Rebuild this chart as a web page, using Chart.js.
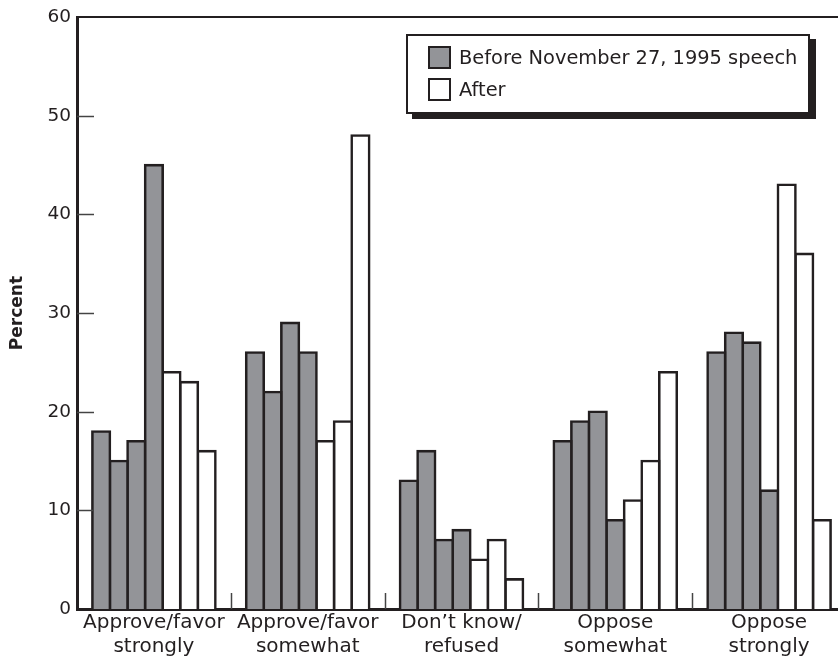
<!DOCTYPE html>
<html>
<head>
<meta charset="utf-8">
<script src="https://cdn.jsdelivr.net/npm/chart.js@4/dist/chart.umd.min.js"></script>
<style>
  html, body { margin: 0; padding: 0; background: #fff; overflow: hidden; width: 838px; height: 661px; }
  #wrap { position: relative; width: 846px; height: 661px; }
  #legend {
    position: absolute; left: 406px; top: 34px; width: 400px; height: 76px;
    border: 2px solid #231f20; background: #fff; box-shadow: 6px 5px 0 #231f20;
    font-family: "DejaVu Sans", sans-serif; font-size: 19.4px; color: #231f20;
  }
  .item { position: absolute; left: 20px; height: 23px; line-height: 23px; white-space: nowrap; }
  .sw { display: inline-block; width: 19px; height: 19px; border: 2px solid #231f20; vertical-align: top; margin-right: 8px; }
</style>
</head>
<body>
<div id="wrap">
  <canvas id="c" width="846" height="661"></canvas>
  <div id="legend">
    <div class="item" style="top:10px"><span class="sw" style="background:#939498"></span><span id="l1"></span></div>
    <div class="item" style="top:42px"><span class="sw" style="background:#fff"></span><span id="l2"></span></div>
  </div>
</div>
<script>
const categories = [["Approve/favor", "strongly"], ["Approve/favor", "somewhat"], ["Don\u2019t know/", "refused"], ["Oppose", "somewhat"], ["Oppose", "strongly"]];
const before1 = [18, 26, 13, 17, 26];
const before2 = [15, 22, 16, 19, 28];
const before3 = [17, 29, 7, 20, 27];
const before4 = [45, 26, 8, 9, 12];
const after1 = [24, 17, 5, 11, 43];
const after2 = [23, 19, 7, 15, 36];
const after3 = [16, 48, 3, 24, 9];
const yTicks = [0, 10, 20, 30, 40, 50, 60];
const legendLabels = ["Before November 27, 1995 speech", "After"];

document.getElementById('l1').textContent = legendLabels[0];
document.getElementById('l2').textContent = legendLabels[1];

const GREY = '#939498', INK = '#231f20';
const FONT = 'DejaVu Sans';
const series = [before1, before2, before3, before4, after1, after2, after3];
const datasets = series.map((d, i) => ({
  label: i < 4 ? legendLabels[0] : legendLabels[1],
  data: d,
  backgroundColor: i < 4 ? GREY : '#ffffff',
  borderColor: INK,
  borderWidth: 2.6,
  borderSkipped: 'bottom',
  inflateAmount: 1.3,
  categoryPercentage: 0.8,
  barPercentage: 1.0
}));

const decor = {
  id: 'decor',
  afterDraw(chart) {
    const { ctx, chartArea: a, scales: { x, y } } = chart;
    ctx.save();
    ctx.strokeStyle = INK; ctx.lineWidth = 2;
    ctx.beginPath(); ctx.moveTo(a.left, a.top); ctx.lineTo(a.right + 10, a.top); ctx.stroke();
    ctx.strokeStyle = '#444'; ctx.lineWidth = 1.5;
    yTicks.forEach(v => {
      if (v === 0 || v === 60) return;
      const py = Math.round(y.getPixelForValue(v)) + 0.5;
      ctx.beginPath(); ctx.moveTo(a.left, py); ctx.lineTo(a.left + 17, py); ctx.stroke();
    });
    const n = categories.length;
    const w = (a.right - a.left) / n;
    for (let i = 1; i < n; i++) {
      const px = Math.round(a.left + i * w) + 0.5;
      ctx.beginPath(); ctx.moveTo(px, a.bottom); ctx.lineTo(px, a.bottom - 16); ctx.stroke();
    }
    ctx.restore();
  }
};

new Chart(document.getElementById('c'), {
  type: 'bar',
  data: { labels: categories, datasets },
  options: {
    responsive: false,
    animation: false,
    datasets: { bar: { barPercentage: 1.0, categoryPercentage: 0.8 } },
    layout: { padding: { top: 14, right: 0, bottom: 0, left: 7 } },
    plugins: { legend: { display: false }, tooltip: { enabled: false } },
    scales: {
      x: {
        grid: { display: false, drawTicks: false },
        border: { display: true, color: INK, width: 3 },
        ticks: { color: INK, font: { family: FONT, size: 20, lineHeight: 1.2 }, padding: 2, maxRotation: 0, autoSkip: false },
        afterFit(s) { s.height = 52; }
      },
      y: {
        min: 0, max: 60,
        afterBuildTicks(s) { s.ticks = yTicks.map(v => ({ value: v })); },
        grid: { display: false, drawTicks: false },
        border: { display: true, color: INK, width: 3 },
        ticks: { color: INK, font: { family: FONT, size: 18.5 }, padding: 6 },
        title: { display: true, text: 'Percent', color: INK, font: { family: FONT, size: 17, weight: 'bold' }, padding: 0 },
        afterFit(s) { s.width = 70; }
      }
    }
  },
  plugins: [decor]
});
</script>
</body>
</html>
